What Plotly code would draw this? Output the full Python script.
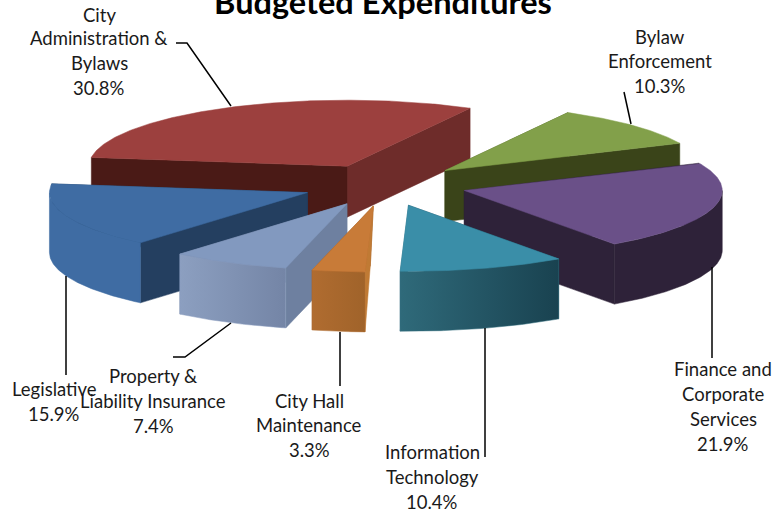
import math
import plotly.graph_objects as go

categories = ["City Administration & Bylaws", "Bylaw Enforcement", "Finance and Corporate Services",
              "Information Technology", "City Hall Maintenance", "Property & Liability Insurance", "Legislative"]
values = [30.8, 10.3, 21.9, 10.4, 3.3, 7.4, 15.9]

# 3-D pie style
CX, CY, RX, RY, EXPLODE, START = 384.5, 185.0, 258.0, 66.0, 0.32, -82.4
depths = [51, 51, 60, 60, 60, 60, 60]
apex_shift = [0, 0, 0, 0, -3, 0, 0]
top_colors = ["#9c403e", "#82a04a", "#6a5088", "#3a8ea8", "#c87b38", "#8299bf", "#3f6ca3"]
start_wall = ["#4a1a16", "#4a5a22", "#2e2239", "#1f4c5c", "#c07a34", "#6e80a0", "#243f60"]
end_wall = ["#6e2c2a", "#3a4419", "#2e2239", "#2f6a7a", "#9a5a24", "#6e80a0", "#243f60"]
arc_left = ["#6e2c2a", "#3a4419", "#2e2239", "#2f6a7a", "#b06c30", "#8c9fc0", "#3f6ca3"]
arc_right = ["#6e2c2a", "#3a4419", "#2e2239", "#194250", "#a0632a", "#7485a6", "#3f6ca3"]
draw_order = [0, 1, 2, 6, 5, 3, 4]

label_lines = [
    ["City", "Administration &", "Bylaws", "30.8%"],
    ["Bylaw", "Enforcement", "10.3%"],
    ["Finance and", "Corporate", "Services", "21.9%"],
    ["Information", "Technology", "10.4%"],
    ["City Hall", "Maintenance", "3.3%"],
    ["Property &", "Liability Insurance", "7.4%"],
    ["Legislative", "15.9%"],
]
label_x = [99, 660, 723, 432, 309, 153, 54]
label_y = [[15, 38, 63, 88], [37, 61, 86], [369, 394, 419, 444], [452, 477, 502],
           [401, 425, 450], [376, 401, 426], [389, 414]]
leaders = [
    [(176, 43), (187, 43), (231, 106)],
    [(624, 92), (631, 124)],
    [(712, 267), (712, 358)],
    [(485, 328), (485, 457)],
    [(340, 332), (340, 386)],
    [(173, 357), (185, 357), (231, 323)],
    [(66, 276), (66, 375)],
]


def pt(t):
    r = math.radians(t)
    return RX * math.sin(r), -RY * math.cos(r)


def poly(fig, pts, color, grad=None):
    xs = [p[0] for p in pts] + [pts[0][0]]
    ys = [p[1] for p in pts] + [pts[0][1]]
    kw = dict(fillcolor=color)
    if grad and grad[0] != grad[1]:
        kw = dict(fillgradient=dict(type="horizontal", colorscale=[[0, grad[0]], [1, grad[1]]]))
    fig.add_trace(go.Scatter(x=xs, y=ys, mode="lines", fill="toself", line=dict(width=0.5, color=color),
                             hoverinfo="skip", showlegend=False, **kw))


fig = go.Figure()
total = sum(values)
angles = []
a = START
for v in values:
    angles.append((a, a + v / total * 360))
    a += v / total * 360

for i in draw_order:
    t0, t1 = angles[i]
    mx, my = pt((t0 + t1) / 2)
    ax, ay = CX + EXPLODE * mx, CY + EXPLODE * my
    d = depths[i]
    walls = []
    for t, col in ((t0, start_wall[i]), (t1, end_wall[i])):
        ex, ey = pt(t)
        walls.append((ey, [(ax, ay), (ax + ex, ay + ey), (ax + ex, ay + ey + d),
                           (ax + apex_shift[i], ay + d)], col))
    walls.sort(key=lambda w: w[0])
    for _, pts, col in walls:
        poly(fig, pts, col)
    for k in (-360, 0, 360):
        lo, hi = max(t0 + k, 90), min(t1 + k, 270)
        if hi > lo:
            n = max(4, int(hi - lo) * 2)
            arc = [pt(lo + (hi - lo) * j / n) for j in range(n + 1)]
            top = [(ax + x, ay + y) for x, y in arc]
            bottom = [(ax + x, ay + y + d) for x, y in reversed(arc)]
            poly(fig, top + bottom, arc_left[i], (arc_left[i], arc_right[i]))
    n = int(t1 - t0) * 2
    arc = [pt(t0 + (t1 - t0) * j / n) for j in range(n + 1)]
    poly(fig, [(ax, ay)] + [(ax + x, ay + y) for x, y in arc], top_colors[i])

for seg in leaders:
    fig.add_trace(go.Scatter(x=[p[0] for p in seg], y=[p[1] for p in seg], mode="lines",
                             line=dict(color="#000000", width=1.5), hoverinfo="skip", showlegend=False))

for lines, x, ys in zip(label_lines, label_x, label_y):
    for text, y in zip(lines, ys):
        fig.add_annotation(x=x, y=y, text=text, showarrow=False, xanchor="center", yanchor="middle",
                           font=dict(family="Lato", size=18.5, color="#1a1a1a"))

fig.update_layout(
    width=775, height=513, margin=dict(l=0, r=0, t=0, b=0), autosize=False,
    paper_bgcolor="white", plot_bgcolor="white",
    title=dict(text="<b>Budgeted Expenditures</b>", x=383 / 775, xanchor="center", y=1 - 3 / 513, yanchor="middle",
               font=dict(family="Lato", size=32.5, color="#000000")),
    xaxis=dict(range=[0, 775], visible=False, fixedrange=True),
    yaxis=dict(range=[513, 0], visible=False, fixedrange=True),
)
fig.write_html("out.html", config=dict(displayModeBar=False),
               post_script="document.body.style.margin='0';document.body.style.overflow='hidden';")
